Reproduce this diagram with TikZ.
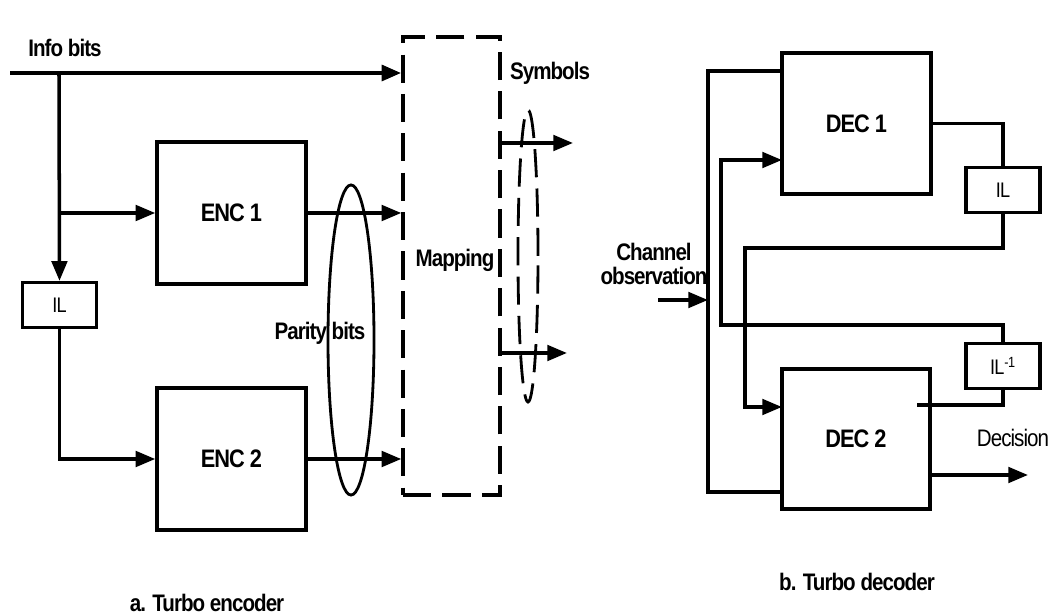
\documentclass[tikz,border=0pt]{standalone}
\usepackage{fontspec}
\usepackage{tikz}
\usetikzlibrary{arrows.meta,shapes.geometric}
\newfontfamily\diafont[FakeStretch=0.86,LetterSpace=-4]{Liberation Sans}

\begin{document}
\begin{tikzpicture}[x=0.025cm,y=-0.025cm,
        line/.style={line width=2.5pt},
        arr/.style={line width=2.5pt,-{Triangle[length=14pt,width=11pt]}},
        box/.style={rectangle,draw,line width=2.5pt,inner sep=0pt,
                    font=\diafont\bfseries\fontsize{18}{20}\selectfont},
        ilbox/.style={rectangle,draw,line width=2.5pt,inner sep=0pt,
                    minimum width=1.85cm,minimum height=1.12cm,
                    font=\diafont\fontsize{15}{17}\selectfont},
        dashline/.style={dash pattern=on 20pt off 8pt},
        lbl/.style={inner sep=0pt,font=\diafont\bfseries\fontsize{17}{19}\selectfont}]
      \useasboundingbox (0,0) rectangle (1054,615);
      % turbo encoder
      \node[box,minimum width=3.72cm,minimum height=3.55cm] (enc1) at (231.5,213) {ENC 1};
      \node[box,minimum width=3.72cm,minimum height=3.55cm] (enc2) at (231.5,459) {ENC 2};
      \node[ilbox] (ilenc) at (59.5,305) {IL};
      \node[box,dashline,minimum width=2.42cm,minimum height=11.45cm] (mapping) at (451.5,266) {};
      \node[lbl] (maplbl) at (455,260) {Mapping};
      \node[draw,ellipse,line width=2pt,minimum width=1.15cm,minimum height=7.75cm,inner sep=0pt] (parity) at (351,340) {};
      \node[draw,ellipse,dashline,line width=2pt,minimum width=0.5cm,minimum height=7.3cm,inner sep=0pt] (symell) at (528,256) {};
      \node[lbl] (infolbl) at (65,48) {Info bits};
      \node[lbl] (paritylbl) at (320,333) {Parity bits};
      \node[lbl] (symlbl) at (550,73) {Symbols};
      \coordinate (in) at (10,73);
      \coordinate (split) at (59,73);
      \coordinate (sym1) at (500,143);
      \coordinate (out1) at (573,143);
      \coordinate (sym2) at (500,353);
      \coordinate (out2) at (567,353);
      \draw[arr,line width=3.2pt] (in) -- (in -| mapping.west);
      \draw[arr] (split) -- (ilenc.north);
      \draw[arr] (enc1.west -| split) -- (enc1.west);
      \draw[arr] (ilenc.south) |- (enc2.west);
      \draw[arr] (enc1.east) -- (enc1.east -| mapping.west);
      \draw[arr] (enc2.east) -- (enc2.east -| mapping.west);
      \draw[arr] (sym1) -- (out1);
      \draw[arr] (sym2) -- (out2);
      % turbo decoder
      \node[box,minimum width=3.72cm,minimum height=3.52cm] (dec1) at (856.5,123.5) {DEC 1};
      \node[box,minimum width=3.7cm,minimum height=3.5cm] (dec2) at (856,439) {DEC 2};
      \node[ilbox] (ildec) at (1003,190) {IL};
      \node[ilbox] (ilinv) at (1003,366) {IL\textsuperscript{-1}};
      \node[lbl,align=center] (obslbl) at (654,264) {Channel\\[-2pt]observation};
      \node[lbl,font=\diafont\fontsize{17}{19}\selectfont] (declbl) at (1013,438) {Decision};
      \coordinate (obsin) at (658,300);
      \coordinate (obs) at (708,300);
      \coordinate (d1a) at (782,71);
      \coordinate (d2a) at (782,492);
      \coordinate (fb1) at (721,325);
      \coordinate (dec1in) at (782,160);
      \coordinate (fb2) at (745,248);
      \coordinate (dec2in) at (782,407);
      \coordinate (dec2tap) at (917,405);
      \coordinate (dec2out) at (930,475);
      \coordinate (decision) at (1028,475);
      \draw[arr] (obsin) -- (obs);
      \draw[line] (d1a) -| (obs) |- (d2a);
      \draw[arr] (ilinv.north) |- (fb1) |- (dec1in);
      \draw[line] (dec1.east) -| (ildec.north);
      \draw[arr] (ildec.south) |- (fb2) |- (dec2in);
      \draw[line] (dec2tap) -| (ilinv.south);
      \draw[arr] (dec2out) -- (decision);
      % captions
      \node[lbl] (capa) at (207,603) {a. Turbo encoder};
      \node[lbl] (capb) at (857,582) {b. Turbo decoder};
    \end{tikzpicture}
\end{document}
